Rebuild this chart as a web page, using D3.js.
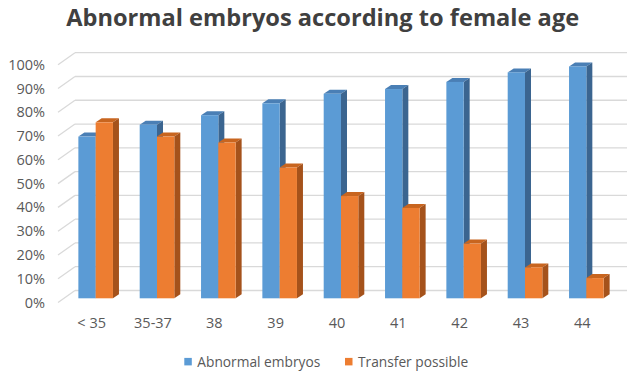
<!DOCTYPE html>
<html>
<head>
<meta charset="utf-8">
<script src="https://cdn.jsdelivr.net/npm/d3@7"></script>
<style>
  body { margin: 0; background: #fff; }
  svg text { font-family: "Segoe UI", "Open Sans", sans-serif; }
</style>
</head>
<body>
<div id="chart"></div>
<script>
// data
var ageGroups = ["< 35", "35-37", "38", "39", "40", "41", "42", "43", "44"];
var abnormalEmbryos = [0.68, 0.73, 0.77, 0.82, 0.86, 0.88, 0.91, 0.95, 0.975];
var transferPossible = [0.74, 0.68, 0.655, 0.55, 0.43, 0.38, 0.23, 0.13, 0.085];
var percentTicks = [0, 0.1, 0.2, 0.3, 0.4, 0.5, 0.6, 0.7, 0.8, 0.9, 1];
var seriesNames = ["Abnormal embryos", "Transfer possible"];

var width = 640, height = 379;
var barW = 17.3;
var depthX = 6, depthY = -4;     // 3d offset of the bar tops / sides
var wallDx = 17, wallDy = -12;   // front edge of floor -> back wall
var barShift = 7.8;              // bars sit a bit in front of the wall
var labelSize = 14.5;

var colors = {
  blue:   { front: "#5b9bd5", top: "#4a7fb5", side: "#3b6590" },
  orange: { front: "#ed7d31", top: "#c8651f", side: "#a5521b" }
};

var svg = d3.select("#chart").append("svg")
  .attr("width", width)
  .attr("height", height);

// value scale on the back wall
var y = d3.scaleLinear().domain([0, 1]).range([290.5, 52.7]);
var x = d3.scaleBand().domain(ageGroups).range([65, 617]).padding(0);

// title, squeezed to the width it has in the picture
var title = svg.append("text")
  .attr("x", 322.7)
  .attr("y", 26)
  .attr("text-anchor", "middle")
  .style("font-size", "24px")
  .style("font-weight", "bold")
  .style("fill", "#404040")
  .text("Abnormal embryos according to female age");
var tw = title.node().getComputedTextLength();
title.style("font-size", (24 * 513 / tw) + "px");

// gridlines on the wall + the slanted bits on the left
var wallLeft = 75, wallRight = 627;
svg.append("g").selectAll("line.grid")
  .data(percentTicks)
  .enter().append("line")
  .attr("class", "grid")
  .attr("x1", wallLeft).attr("x2", wallRight)
  .attr("y1", function(d) { return y(d); })
  .attr("y2", function(d) { return y(d); })
  .attr("stroke", "#d9d9d9")
  .attr("stroke-width", 1.3);

svg.append("g").selectAll("line.diag")
  .data(percentTicks)
  .enter().append("line")
  .attr("class", "diag")
  .attr("x1", wallLeft - wallDx).attr("x2", wallLeft)
  .attr("y1", function(d) { return y(d) - wallDy; })
  .attr("y2", function(d) { return y(d); })
  .attr("stroke", "#d9d9d9")
  .attr("stroke-width", 1.3);

// y tick labels
svg.append("g").selectAll("text")
  .data(percentTicks)
  .enter().append("text")
  .attr("x", 45)
  .attr("y", function(d) { return y(d) - wallDy; })
  .attr("dy", "0.35em")
  .attr("text-anchor", "end")
  .style("font-size", labelSize + "px")
  .style("fill", "#595959")
  .text(d3.format(".0%"));

// 3d bar drawing
function drawBar(g, bx, value, c) {
  var base = y(0) + barShift;
  var top = y(value) + barShift;
  g.append("polygon")
    .attr("points", [[bx, top], [bx + depthX, top + depthY], [bx + barW + depthX, top + depthY], [bx + barW, top]].join(" "))
    .attr("fill", c.top);
  g.append("polygon")
    .attr("points", [[bx + barW, top], [bx + barW + depthX, top + depthY], [bx + barW + depthX, base + depthY], [bx + barW, base]].join(" "))
    .attr("fill", c.side);
  g.append("rect")
    .attr("x", bx).attr("y", top)
    .attr("width", barW).attr("height", base - top)
    .attr("fill", c.front);
}

var bars = svg.append("g");
ageGroups.forEach(function(cat, i) {
  var cx = x(cat) + x.bandwidth() / 2;
  var g = bars.append("g");
  drawBar(g, cx - barW, abnormalEmbryos[i], colors.blue);
  drawBar(g, cx, transferPossible[i], colors.orange);
});

// category labels
svg.append("g").selectAll("text")
  .data(ageGroups)
  .enter().append("text")
  .attr("x", function(d) { return x(d) + x.bandwidth() / 2 - 4; })
  .attr("y", 322.5)
  .attr("dy", "0.35em")
  .attr("text-anchor", "middle")
  .style("font-size", labelSize + "px")
  .style("fill", "#595959")
  .text(function(d) { return d; });

// legend
var legendItems = [
  { name: seriesNames[0], color: colors.blue.front, x: 184.3 },
  { name: seriesNames[1], color: colors.orange.front, x: 345 }
];
var legend = svg.append("g").selectAll("g")
  .data(legendItems)
  .enter().append("g")
  .attr("transform", function(d) { return "translate(" + d.x + ",361.7)"; });

legend.append("rect")
  .attr("x", 0).attr("y", -3.8)
  .attr("width", 7.5).attr("height", 7.5)
  .attr("fill", function(d) { return d.color; });

var legendText = legend.append("text")
  .attr("x", 13)
  .attr("dy", "0.35em")
  .style("font-size", "14px")
  .style("fill", "#595959")
  .text(function(d) { return d.name; });
// match the legend text width in the picture (~123px for the first entry)
var lw = legendText.node().getComputedTextLength();
legendText.style("font-size", (14 * 123 / lw) + "px");
</script>
</body>
</html>
